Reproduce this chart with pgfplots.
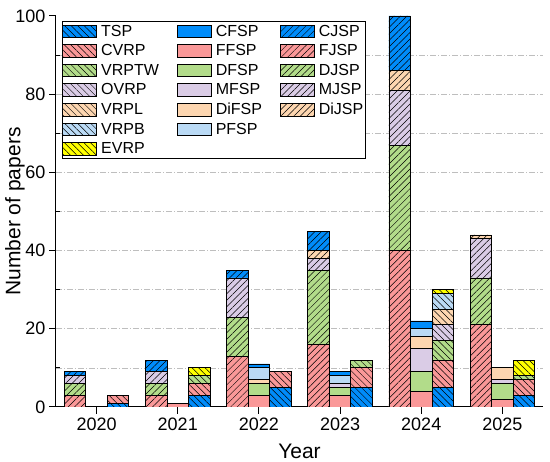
\documentclass[border=0pt]{standalone}
\usepackage{fontspec}
\setmainfont{Liberation Sans}
\usepackage{pgfplots}
\pgfplotsset{compat=1.18}
\usepackage{pgfplotstable}
\usetikzlibrary{patterns.meta}

\definecolor{cBlue}{RGB}{0,140,250}
\definecolor{cRed}{RGB}{250,152,152}
\definecolor{cGreen}{RGB}{178,220,138}
\definecolor{cPurple}{RGB}{218,204,230}
\definecolor{cOrange}{RGB}{253,214,176}
\definecolor{cLBlue}{RGB}{186,218,245}
\definecolor{cYellow}{RGB}{255,255,0}
\definecolor{cGrid}{RGB}{190,190,190}

\pgfplotstableread{
year FJSP DJSP MJSP DiJSP CJSP
2020 3 3 2 0 1
2021 3 3 3 0 3
2022 13 10 10 0 2
2023 16 19 3 2 5
2024 40 27 14 5 14
2025 21 12 10 1 0
}\jsp

\pgfplotstableread{
year FFSP DFSP MFSP DiFSP PFSP CFSP
2020 0 0 0 0 0 0
2021 1 0 0 0 0 0
2022 3 3 0 1 3 1
2023 3 2 1 0 2 1
2024 4 5 6 3 2 2
2025 2 4 1 3 0 0
}\fsp

\pgfplotstableread{
year TSP CVRP VRPTW OVRP VRPL VRPB EVRP
2020 1 2 0 0 0 0 0
2021 3 3 2 0 0 0 2
2022 5 4 0 0 0 0 0
2023 5 5 2 0 0 0 0
2024 5 7 5 4 4 4 1
2025 3 4 1 0 0 0 4
}\vrp

\tikzset{
  hjsp/.style={postaction={pattern={Lines[angle=45,distance=4.6pt,line width=0.5pt]},pattern color=black}},
  hvrp/.style={postaction={pattern={Lines[angle=-45,distance=4.6pt,line width=0.5pt]},pattern color=black}},
  bx/.style={fill=#1, draw=black, line width=0.8pt},
}

\pgfplotsset{
  base/.style={scale only axis, width=487pt, height=391pt, at={(56pt,55pt)}, anchor=south west,
    xmin=2019.5, xmax=2025.5, ymin=0, ymax=100, ybar stacked, bar width=0.265},
}

\begin{document}
\begin{tikzpicture}
\path[use as bounding box] (0,0) rectangle (550pt,462pt);
% Job shop group (left bars)
\begin{axis}[base, bar shift=-0.265,
  axis x line*=bottom, axis y line*=left,
  axis line style={line width=1pt, black},
  xtick={2020,2021,2022,2023,2024,2025},
  ytick={0,20,40,60,80,100},
  minor ytick={10,30,50,70,90},
  yminorgrids=true,
  extra y ticks={20,40,60,80}, extra y tick labels={},
  extra y tick style={grid=major, major tick length=0pt},
  major grid style={cGrid, line width=0.6pt, dash pattern=on 6pt off 2pt on 1pt off 2pt},
  minor grid style={cGrid, line width=0.6pt, dash pattern=on 6pt off 2pt on 1pt off 2pt},
  tick align=outside, major tick length=7pt, minor tick length=4pt,
  minor tick style={xshift=4pt},
  tick style={black, line width=1pt},
  ticklabel style={font=\fontsize{18}{20}\selectfont},
  /pgf/number format/assume math mode=true,
  xticklabel style={/pgf/number format/1000 sep=},
  xlabel={Year}, ylabel={Number of papers},
  label style={font=\fontsize{21}{24}\selectfont},
  xlabel style={at={(axis description cs:0.5,-0.1125)}, anchor=center},
  ylabel style={at={(axis description cs:-0.0842,0.5)}, anchor=center},
]
\addplot[bx=cRed, hjsp] table[x=year, y=FJSP]{\jsp};
\addplot[bx=cGreen, hjsp] table[x=year, y=DJSP]{\jsp};
\addplot[bx=cPurple, hjsp] table[x=year, y=MJSP]{\jsp};
\addplot[bx=cOrange, hjsp] table[x=year, y=DiJSP]{\jsp};
\addplot[bx=cBlue, hjsp] table[x=year, y=CJSP]{\jsp};
\end{axis}
% Flow shop group (middle bars)
\begin{axis}[base, bar shift=0, hide axis]
\addplot[bx=cRed] table[x=year, y=FFSP]{\fsp};
\addplot[bx=cGreen] table[x=year, y=DFSP]{\fsp};
\addplot[bx=cPurple] table[x=year, y=MFSP]{\fsp};
\addplot[bx=cOrange] table[x=year, y=DiFSP]{\fsp};
\addplot[bx=cLBlue] table[x=year, y=PFSP]{\fsp};
\addplot[bx=cBlue] table[x=year, y=CFSP]{\fsp};
\end{axis}
% Routing group (right bars) + legend
\begin{axis}[base, bar shift=0.265, hide axis,
  legend columns=3, legend cell align=left,
  legend image code/.code={\draw[#1,line width=0.8pt] (0pt,-6.3pt) rectangle (34pt,6.3pt);},
  legend style={at={(axis description cs:0.0123,0.987)}, anchor=north west,
    draw=black, line width=0.8pt, fill=white,
    font=\fontsize{16}{18}\selectfont, inner xsep=0pt, inner ysep=1.5pt,
    nodes={inner sep=2pt, text depth=0.15em},
    row sep=2.9pt, column sep=2pt,
    /tikz/every even column/.append style={column sep=16pt}},
]
\addlegendimage{bx=cBlue, hvrp}
\addlegendimage{bx=cBlue}
\addlegendimage{bx=cBlue, hjsp}
\addlegendimage{bx=cRed, hvrp}
\addlegendimage{bx=cRed}
\addlegendimage{bx=cRed, hjsp}
\addlegendimage{bx=cGreen, hvrp}
\addlegendimage{bx=cGreen}
\addlegendimage{bx=cGreen, hjsp}
\addlegendimage{bx=cPurple, hvrp}
\addlegendimage{bx=cPurple}
\addlegendimage{bx=cPurple, hjsp}
\addlegendimage{bx=cOrange, hvrp}
\addlegendimage{bx=cOrange}
\addlegendimage{bx=cOrange, hjsp}
\addlegendimage{bx=cLBlue, hvrp}
\addlegendimage{bx=cLBlue}
\addlegendimage{empty legend}
\addlegendimage{bx=cYellow, hvrp}
\legend{TSP,CFSP,CJSP,CVRP,FFSP,FJSP,VRPTW,DFSP,DJSP,OVRP,MFSP,MJSP,VRPL,DiFSP,DiJSP\hspace{9pt},VRPB,PFSP,\mbox{},EVRP}
\addplot[bx=cBlue, hvrp] table[x=year, y=TSP]{\vrp};
\addplot[bx=cRed, hvrp] table[x=year, y=CVRP]{\vrp};
\addplot[bx=cGreen, hvrp] table[x=year, y=VRPTW]{\vrp};
\addplot[bx=cPurple, hvrp] table[x=year, y=OVRP]{\vrp};
\addplot[bx=cOrange, hvrp] table[x=year, y=VRPL]{\vrp};
\addplot[bx=cLBlue, hvrp] table[x=year, y=VRPB]{\vrp};
\addplot[bx=cYellow, hvrp] table[x=year, y=EVRP]{\vrp};
\end{axis}
\end{tikzpicture}
\end{document}
